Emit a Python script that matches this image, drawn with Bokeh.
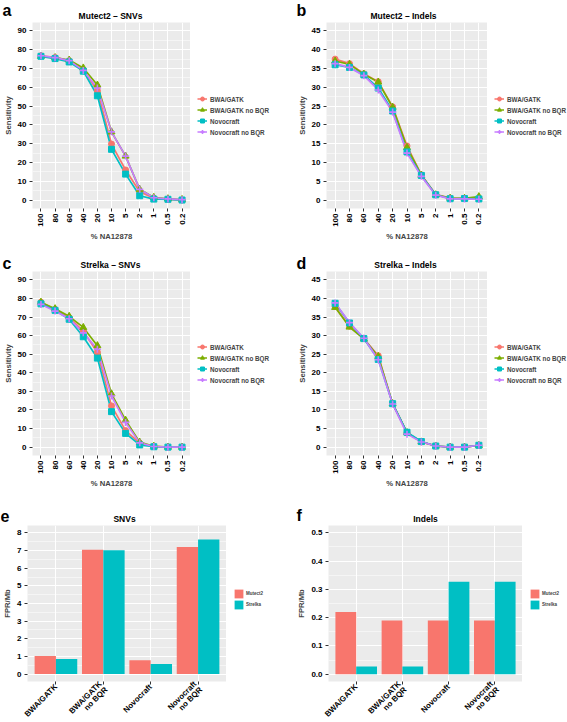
import math
from bokeh.plotting import figure
from bokeh.layouts import column, row
from bokeh.models import (FactorRange, Range1d, FixedTicker, Legend, LegendItem,
                          Label, NumeralTickFormatter, ColumnDataSource)
from bokeh.transform import dodge
from bokeh.embed import file_html
from bokeh.resources import INLINE

# ---------------- data ----------------
dilutions = ["100", "80", "60", "40", "20", "10", "5", "2", "1", "0.5", "0.2"]
pipelines = ["BWA/GATK", "BWA/GATK no BQR", "Novocraft", "Novocraft no BQR"]
bar_categories = ["BWA/GATK", "BWA/GATK\nno BQR", "Novocraft", "Novocraft\nno BQR"]
callers = ["Mutect2", "Strelka"]
panel_letters = ["a", "b", "c", "d", "e", "f"]
panel_titles = ["Mutect2 \u2013 SNVs", "Mutect2 \u2013 Indels", "Strelka \u2013 SNVs",
                "Strelka \u2013 Indels", "SNVs", "Indels"]

# Mutect2 - SNVs sensitivity
m2_snv_bwa = [76.8, 75.9, 74.1, 69.3, 58.2, 29.8, 16.0, 4.4, 0.9, 0.4, 0.0]
m2_snv_bwa_nobqr = [76.5, 75.8, 74.5, 70.3, 61.2, 36.3, 23.4, 5.7, 1.4, 0.7, 0.3]
m2_snv_novo = [76.5, 75.3, 73.5, 68.6, 55.5, 27.0, 13.8, 2.3, 0.5, 0.4, 0.0]
m2_snv_novo_nobqr = [76.8, 75.8, 74.2, 69.0, 59.6, 36.3, 23.4, 5.7, 1.2, 0.6, 0.2]

# Mutect2 - Indels sensitivity
m2_ind_bwa = [37.5, 36.3, 33.6, 31.5, 24.8, 14.4, 6.7, 1.5, 0.5, 0.45, 0.35]
m2_ind_bwa_nobqr = [37.0, 36.1, 33.5, 31.4, 24.7, 14.0, 6.6, 1.4, 0.5, 0.45, 0.9]
m2_ind_novo = [36.0, 35.3, 33.3, 29.8, 23.7, 12.8, 6.55, 1.4, 0.35, 0.4, 0.3]
m2_ind_novo_nobqr = [36.3, 35.3, 33.1, 29.3, 23.4, 12.5, 6.3, 1.3, 0.3, 0.3, 0.2]

# Strelka - SNVs sensitivity
st_snv_bwa = [78.0, 74.1, 69.7, 62.4, 51.1, 22.2, 8.9, 2.1, 0.35, 0.0, 0.0]
st_snv_bwa_nobqr = [78.0, 74.5, 70.4, 64.4, 54.6, 28.7, 14.5, 2.7, 0.5, 0.0, 0.0]
st_snv_novo = [77.1, 73.6, 68.8, 59.4, 47.9, 19.1, 7.4, 1.2, 0.2, 0.0, 0.0]
st_snv_novo_nobqr = [76.8, 73.2, 69.1, 61.5, 52.7, 27.5, 13.3, 2.3, 0.35, 0.0, 0.0]

# Strelka - Indels sensitivity
st_ind_bwa = [37.8, 32.5, 29.2, 24.6, 11.7, 3.9, 1.4, 0.3, 0.0, 0.0, 0.45]
st_ind_bwa_nobqr = [37.6, 32.3, 29.1, 24.4, 11.7, 3.9, 1.4, 0.3, 0.0, 0.0, 0.45]
st_ind_novo = [38.7, 33.4, 29.2, 23.6, 11.7, 4.0, 1.5, 0.3, 0.0, 0.0, 0.5]
st_ind_novo_nobqr = [38.8, 33.5, 29.3, 23.5, 11.6, 3.5, 1.4, 0.3, 0.0, 0.0, 0.5]

# False positive rate per Mb
fpr_snv_mutect2 = [1.02, 7.05, 0.78, 7.20]
fpr_snv_strelka = [0.85, 7.02, 0.57, 7.62]
fpr_indel_mutect2 = [0.22, 0.19, 0.19, 0.19]
fpr_indel_strelka = [0.027, 0.027, 0.327, 0.327]

# ---------------- styling ----------------
FONT = "Liberation Sans"
LINE_COLORS = ["#F8766D", "#7CAE00", "#00BFC4", "#C77CFF"]
MARKERS = ["circle", "triangle", "square", "cross"]
MARKER_SIZES = [6, 7, 6, 7]
BAR_COLORS = ["#F8766D", "#00BFC4"]
TOTAL_W = 567
NAN = float("nan")


def blank_fig(w, h, bottom=0):
    p = figure(width=w, height=h, x_range=Range1d(0, 1), y_range=Range1d(0, 1),
               x_axis_location=None, y_axis_location=None,
               output_backend="svg", toolbar_location=None, min_border=0)
    p.min_border_bottom = bottom
    for g in p.grid:
        g.visible = False
    p.outline_line_color = None
    p.background_fill_color = "white"
    p.border_fill_color = "white"
    return p


def header(h, entries, letter_baseline="alphabetic"):
    """entries: (letter, letter_x, letter_y, title, title_x, title_y)"""
    p = blank_fig(TOTAL_W, h)
    for letter, lx, ly, title, tx, ty in entries:
        p.add_layout(Label(x=lx, y=ly, x_units="screen", y_units="screen", text=letter,
                           text_font=FONT, text_font_style="bold", text_font_size="16px",
                           text_baseline=letter_baseline, text_align="left",
                           text_color="black"))
        p.add_layout(Label(x=tx, y=ty, x_units="screen", y_units="screen", text=title,
                           text_font=FONT, text_font_style="bold", text_font_size="8.5px",
                           text_baseline="middle", text_align="center", text_color="black"))
    return p


def style_common(p, ylabel, major, minor):
    p.background_fill_color = "#EBEBEB"
    p.border_fill_color = "white"
    p.outline_line_color = None
    for ax in (p.xaxis[0], p.yaxis[0]):
        ax.axis_line_color = None
        ax.major_tick_line_color = "#333333"
        ax.major_tick_out = 3
        ax.major_tick_in = 0
        ax.minor_tick_line_color = None
        ax.major_label_text_font = FONT
        ax.major_label_text_font_style = "bold"
        ax.major_label_text_font_size = "8px"
        ax.major_label_text_color = "black"
        ax.major_label_standoff = 2
        ax.axis_label_text_font = FONT
        ax.axis_label_text_font_style = "bold"
        ax.axis_label_text_font_size = "7.7px"
        ax.axis_label_standoff = 2
    t = FixedTicker(ticks=major, minor_ticks=minor)
    p.yaxis[0].ticker = t
    p.ygrid[0].ticker = t
    p.yaxis[0].axis_label = ylabel
    p.xgrid.grid_line_color = "white"
    p.xgrid.grid_line_width = 1
    p.ygrid.grid_line_color = "white"
    p.ygrid.grid_line_width = 1
    p.ygrid.minor_grid_line_color = "white"
    p.ygrid.minor_grid_line_width = 0.5


def line_panel(series, yr, major, minor, fw, h, bl, bb):
    p = figure(width=bl + fw, height=h,
               x_range=FactorRange(factors=dilutions, range_padding=0.2 / len(dilutions)),
               y_range=Range1d(*yr), output_backend="svg", toolbar_location=None,
               min_border_left=bl, min_border_right=0, min_border_top=0,
               min_border_bottom=bb)
    style_common(p, "Sensitivity", major, minor)
    p.xaxis.axis_label = "% NA12878"
    p.xaxis.major_label_orientation = math.pi / 2
    for vals, c in zip(series, LINE_COLORS):
        p.line(dilutions, vals, line_color=c, line_width=1.7)
    for vals, c, m, s in zip(series, LINE_COLORS, MARKERS, MARKER_SIZES):
        p.scatter(dilutions, vals, marker=m, size=s, fill_color=c,
                  line_color=c, line_width=1.6 if m == "cross" else 1)
    return p


def line_legend(w, h, bb):
    p = blank_fig(w, h, bb)
    items = []
    for name, c, m, s in zip(pipelines, LINE_COLORS, MARKERS, MARKER_SIZES):
        l = p.line(x=[NAN], y=[NAN], line_color=c, line_width=1.7)
        k = p.scatter(x=[NAN], y=[NAN], marker=m, size=s, fill_color=c, line_color=c,
                      line_width=1.6 if m == "cross" else 1)
        items.append(LegendItem(label=name, renderers=[l, k]))
    leg = Legend(items=items, location="center_left", margin=7, padding=0,
                 spacing=1, glyph_width=10, glyph_height=10, label_standoff=3,
                 label_text_font=FONT, label_text_font_style="bold",
                 label_text_font_size="6.3px", label_height=10,
                 border_line_color=None, background_fill_alpha=0)
    p.add_layout(leg)
    return p


def bar_panel(m2, st, yr, major, minor, fmt, fw, fh, bl, bb):
    p = figure(width=bl + fw, frame_height=fh,
               x_range=FactorRange(factors=bar_categories, range_padding=0.2 / len(bar_categories)),
               y_range=Range1d(*yr), output_backend="svg", toolbar_location=None,
               min_border_left=bl, min_border_right=0, min_border_top=0,
               min_border_bottom=bb)
    style_common(p, "FPR/Mb", major, minor)
    if fmt:
        p.yaxis.formatter = NumeralTickFormatter(format=fmt)
    p.xaxis.major_label_orientation = math.pi / 4
    p.xaxis.major_label_text_font_size = "7.9px"
    p.xaxis.major_label_text_line_height = 0.9
    p.xaxis.major_label_standoff = 1
    src = ColumnDataSource(dict(cat=bar_categories, m2=m2, st=st))
    p.vbar(x=dodge("cat", -0.225, range=p.x_range), top="m2", width=0.45,
           source=src, fill_color=BAR_COLORS[0], line_color=None)
    p.vbar(x=dodge("cat", 0.225, range=p.x_range), top="st", width=0.45,
           source=src, fill_color=BAR_COLORS[1], line_color=None)
    return p


def bar_legend(w, fh, bb):
    p = blank_fig(w, fh + bb, bb)
    items = []
    for name, c in zip(callers, BAR_COLORS):
        r = p.vbar(x=[NAN], top=[NAN], width=0.5, fill_color=c, line_color=None)
        items.append(LegendItem(label=name, renderers=[r]))
    leg = Legend(items=items, location="center_left", margin=7, padding=0,
                 spacing=0, glyph_width=11, glyph_height=11, label_standoff=2,
                 label_text_font=FONT, label_text_font_style="bold",
                 label_text_font_size="4.5px", label_height=11,
                 border_line_color=None, background_fill_alpha=0)
    p.add_layout(leg)
    return p


# ---------------- row 1 ----------------
h1 = header(22, [(panel_letters[0], 2, 12, panel_titles[0], 110, 7),
                 (panel_letters[1], 296, 12, panel_titles[1], 403, 7)],
            letter_baseline="middle")
pa = line_panel([m2_snv_bwa, m2_snv_bwa_nobqr, m2_snv_novo, m2_snv_novo_nobqr],
                (-4.5, 94.5), list(range(0, 91, 10)), list(range(5, 90, 10)),
                160, 223, 30, 37)
la = line_legend(93, 223, 37)
pb = line_panel([m2_ind_bwa, m2_ind_bwa_nobqr, m2_ind_novo, m2_ind_novo_nobqr],
                (-2.25, 47.25), list(range(0, 46, 5)), [2.5 + 5 * i for i in range(9)],
                161, 223, 43, 37)
lb = line_legend(80, 223, 37)

# ---------------- row 2 ----------------
h2 = header(26, [(panel_letters[2], 2, 8, panel_titles[2], 110, 7),
                 (panel_letters[3], 296, 8, panel_titles[3], 405, 7)])
pc = line_panel([st_snv_bwa, st_snv_bwa_nobqr, st_snv_novo, st_snv_novo_nobqr],
                (-4.5, 94.5), list(range(0, 91, 10)), list(range(5, 90, 10)),
                160, 219, 30, 34)
lc = line_legend(93, 219, 34)
pd_ = line_panel([st_ind_bwa, st_ind_bwa_nobqr, st_ind_novo, st_ind_novo_nobqr],
                 (-2.25, 47.25), list(range(0, 46, 5)), [2.5 + 5 * i for i in range(9)],
                 161, 219, 43, 34)
ld = line_legend(80, 219, 34)

# ---------------- row 3 ----------------
h3 = header(35, [(panel_letters[4], 0, 10, panel_titles[4], 124, 7),
                 (panel_letters[5], 296, 10, panel_titles[5], 425, 7)])
pe = bar_panel(fpr_snv_mutect2, fpr_snv_strelka, (-0.42, 8.42), list(range(0, 9)),
               [0.5 + i for i in range(8)], None, 202, 156, 24, 41)
le = bar_legend(57, 156, 41)
pf = bar_panel(fpr_indel_mutect2, fpr_indel_strelka, (-0.026, 0.526),
               [0.0, 0.1, 0.2, 0.3, 0.4, 0.5], [0.05, 0.15, 0.25, 0.35, 0.45], "0.0",
               194, 156, 45, 41)
lf = bar_legend(45, 156, 41)

layout = column(h1, row(pa, la, pb, lb), h2, row(pc, lc, pd_, ld), h3, row(pe, le, pf, lf))
open("out.html", "w").write(file_html(layout, INLINE))
